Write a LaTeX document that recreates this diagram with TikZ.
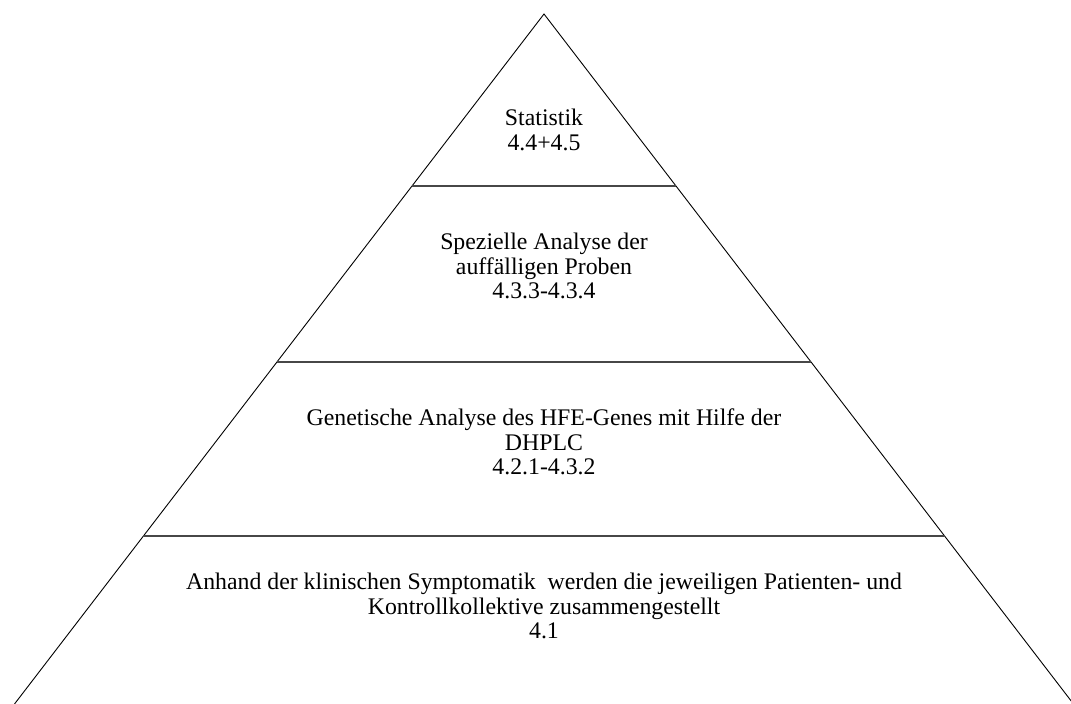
\documentclass[tikz,border=0pt]{standalone}
\usepackage{fontspec}
\setmainfont{Liberation Serif}
\begin{document}
\begin{tikzpicture}[x=1pt,y=-1pt,
  side/.style={line width=0.9pt,black},
  layer/.style={line width=2.2pt,black!72},
  lbl/.style={align=center,font=\fontsize{23.8}{24.6}\selectfont,inner sep=0pt}]
\useasboundingbox (0,0) rectangle (1071,704);
\coordinate (apex) at (544,14);
\coordinate (bl) at (14.5,704);
\coordinate (br) at (1073.5,704);
\draw[side] (bl) -- (apex) -- (br);
\path (apex) -- (bl) coordinate[pos=0.24928] (l1) coordinate[pos=0.50435] (l2) coordinate[pos=0.75652] (l3);
\path (apex) -- (br) coordinate[pos=0.24928] (r1) coordinate[pos=0.50435] (r2) coordinate[pos=0.75652] (r3);
\draw[layer] (l1) -- (r1);
\draw[layer] (l2) -- (r2);
\draw[layer] (l3) -- (r3);
\node[lbl] (t1) at (544,130) {Statistik\\4.4+4.5};
\node[lbl] (t2) at (544,266) {Spezielle Analyse der\\auffälligen Proben\\4.3.3-4.3.4};
\node[lbl] (t3) at (544,442) {Genetische Analyse des HFE-Genes mit Hilfe der\\DHPLC\\4.2.1-4.3.2};
\node[lbl] (t4) at (544,606) {Anhand der klinischen Symptomatik\ \ werden die jeweiligen Patienten- und\\Kontrollkollektive zusammengestellt\\4.1};
\end{tikzpicture}
\end{document}
